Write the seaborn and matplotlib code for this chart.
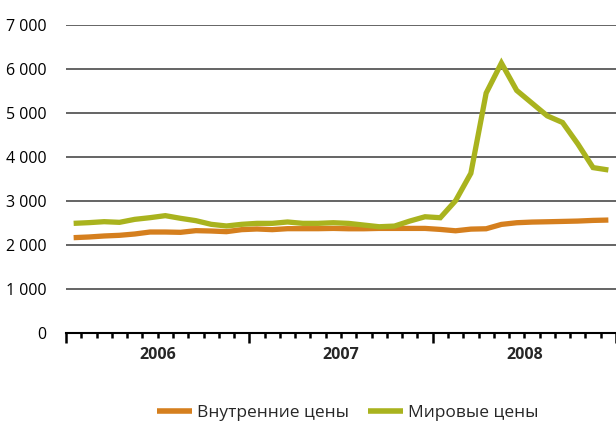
import matplotlib
matplotlib.use("Agg")
import matplotlib.pyplot as plt
import matplotlib.ticker as mticker
import matplotlib.transforms as mtrans
import seaborn as sns
import pandas as pd
import numpy as np

# Data (monthly, Jan 2006 - Dec 2008)
years = ["2006", "2007", "2008"]
months = [f"{y}-{m:02d}" for y in years for m in range(1, 13)]
domestic = [2167, 2182, 2205, 2220, 2250, 2295, 2295, 2288, 2326, 2318, 2303, 2349,
            2364, 2349, 2371, 2371, 2371, 2377, 2369, 2369, 2377, 2377, 2377, 2377,
            2354, 2323, 2361, 2369, 2468, 2506, 2521, 2528, 2536, 2544, 2559, 2567]
world = [2492, 2508, 2530, 2515, 2583, 2621, 2667, 2606, 2553, 2470, 2432, 2470,
         2492, 2492, 2523, 2492, 2492, 2506, 2491, 2453, 2415, 2430, 2544, 2642,
         2620, 3007, 3630, 5452, 6135, 5513, 5224, 4935, 4784, 4298, 3759, 3705]
series_names = ["Внутренние цены", "Мировые цены"]
colors = ["#D57F1E", "#A9B31E"]

df = pd.DataFrame({
    "month": months * 2,
    "pos": list(np.arange(len(months)) + 0.5) * 2,
    "value": domestic + world,
    "series": [series_names[0]] * len(months) + [series_names[1]] * len(months),
})

sns.set_theme(style="white")
plt.rcParams["font.family"] = ["Open Sans", "DejaVu Sans"]

fig = plt.figure(figsize=(6.16, 4.25), dpi=100)
ax = fig.add_axes([66 / 616, 92 / 425, 550 / 616, 308 / 425])

sns.lineplot(data=df, x="pos", y="value", hue="series", palette=colors,
             linewidth=3.8, ax=ax, legend=True)
for ln in ax.lines:
    ln.set_solid_capstyle("butt")
    ln.set_solid_joinstyle("miter")

ax.set_xlim(0, 36)
ax.set_ylim(0, 7000)
ax.set_xlabel("")
ax.set_ylabel("")

# y axis
ax.set_yticks(np.arange(0, 7001, 1000))
ax.yaxis.set_major_formatter(mticker.FuncFormatter(lambda v, p: f"{int(v):,}".replace(",", " ")))
ax.tick_params(axis="y", length=0, pad=14, labelsize=11.5, colors="black")
ax.grid(axis="y", color="#3a3a3a", linewidth=1.1)
ax.set_axisbelow(True)

# x axis
ax.set_xticks([0, 12, 24, 36])
ax.set_xticks(np.arange(0, 37, 1), minor=True)
ax.set_xticklabels([])
ax.tick_params(axis="x", which="major", direction="out", length=7, width=1.8,
               color="black", bottom=True)
ax.tick_params(axis="x", which="minor", direction="out", length=3.5, width=1.8,
               color="black", bottom=True)
trans = mtrans.blended_transform_factory(ax.transData, ax.transAxes)
for i, y in enumerate(years):
    ax.text(6 + 12 * i, -0.07, y, transform=trans, ha="center", va="center",
            fontsize=11.5, fontweight="bold")

for s in ["top", "right", "left"]:
    ax.spines[s].set_visible(False)
ax.spines["bottom"].set_color("black")
ax.spines["bottom"].set_linewidth(1.5)

leg = ax.legend(loc="center", bbox_to_anchor=(348 / 616, 12 / 425), bbox_transform=fig.transFigure,
                ncol=2, frameon=False, fontsize=12.5, handlelength=2.0, handletextpad=0.3,
                columnspacing=1.1, borderpad=0)
for h in leg.get_lines():
    h.set_linewidth(4)

fig.savefig("out.png", dpi=100)
